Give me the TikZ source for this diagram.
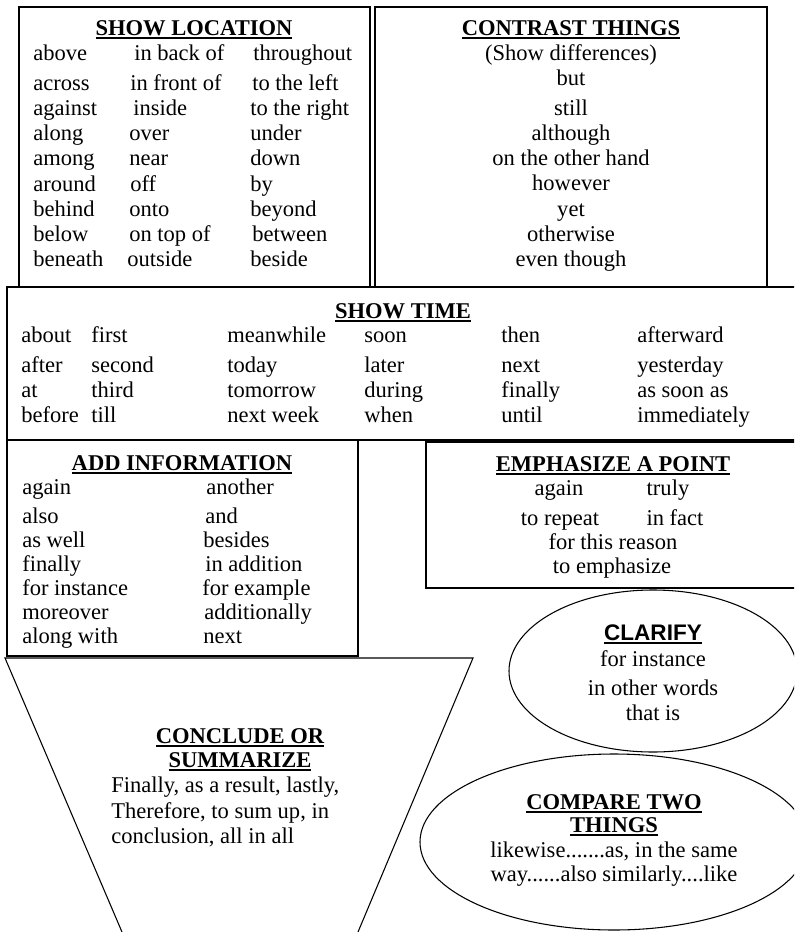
\documentclass[tikz,border=0pt]{standalone}
\usepackage{fontspec}
\setmainfont{Liberation Serif}
\newfontfamily\arialfont{Liberation Sans}
\newsavebox\hdbox
\newcommand\hdul[1]{\sbox\hdbox{#1}\leavevmode\rlap{\raisebox{-3pt}{\rule{\wd\hdbox}{1.4pt}}}\usebox\hdbox}
\newcommand\bodyfont{\fontsize{16.9pt}{19pt}\selectfont}
\newcommand\headfont{\fontsize{16.9pt}{19pt}\selectfont\bfseries}
\begin{document}
\begin{tikzpicture}[x=0.75pt,y=-0.75pt,
  txt/.style={inner sep=0pt, font=\bodyfont},
  lt/.style={txt, anchor=base west},
  ct/.style={txt, anchor=base},
  hd/.style={inner sep=0pt, anchor=base, font=\headfont},
  frame/.style={draw, line width=0.8pt}]
\useasboundingbox (0,0) rectangle (794,932);
\clip (0,0) rectangle (794,932);
% boxes
\draw[frame] (19,287) -- (19,7) -- (370,7) -- (370,287);
\draw[frame] (375,287) -- (375,7) -- (767,7) -- (767,287);
\draw[frame] (800,287) -- (7,287) -- (7,440) -- (800,440);
\draw[frame] (7,440) -- (7,656) -- (358,656) -- (358,440);
\draw[frame] (800,442) -- (426,442) -- (426,588) -- (800,588);
\draw[frame] (122,932) -- (5,658) -- (473,658) -- (358,932);
\draw[frame] (653,671) ellipse [x radius=144, y radius=81];
\draw[frame] (614,842) ellipse [x radius=194, y radius=88];
% SHOW LOCATION
\node[hd] (locH) at (194,35) {\hdul{SHOW LOCATION}};
\node[lt] (l11) at (33,60) {above};
\node[lt] (l12) at (134,60) {in back of};
\node[lt] (l13) at (253,60) {throughout};
\node[lt] (l21) at (33,90.5) {across};
\node[lt] (l22) at (130,90.5) {in front of};
\node[lt] (l23) at (252,90.5) {to the left};
\node[lt] (l31) at (33,115.5) {against};
\node[lt] (l32) at (133,115.5) {inside};
\node[lt] (l33) at (250,115.5) {to the right};
\node[lt] (l41) at (33,140.5) {along};
\node[lt] (l42) at (129,140.5) {over};
\node[lt] (l43) at (250,140.5) {under};
\node[lt] (l51) at (33,165.5) {among};
\node[lt] (l52) at (129,165.5) {near};
\node[lt] (l53) at (250,165.5) {down};
\node[lt] (l61) at (33,191) {around};
\node[lt] (l62) at (130,191) {off};
\node[lt] (l63) at (250,191) {by};
\node[lt] (l71) at (33,216) {behind};
\node[lt] (l72) at (129,216) {onto};
\node[lt] (l73) at (250,216) {beyond};
\node[lt] (l81) at (33,241) {below};
\node[lt] (l82) at (129,241) {on top of};
\node[lt] (l83) at (252,241) {between};
\node[lt] (l91) at (33,266) {beneath};
\node[lt] (l92) at (127,266) {outside};
\node[lt] (l93) at (250,266) {beside};
% CONTRAST THINGS
\node[hd] (conH) at (571,35) {\hdul{CONTRAST THINGS}};
\node[ct] (c1) at (571,60) {(Show differences)};
\node[ct] (c2) at (571,85) {but};
\node[ct] (c3) at (571,115) {still};
\node[ct] (c4) at (571,140) {although};
\node[ct] (c5) at (571,165.5) {on the other hand};
\node[ct] (c6) at (571,190.5) {however};
\node[ct] (c7) at (571,216) {yet};
\node[ct] (c8) at (571,241) {otherwise};
\node[ct] (c9) at (571,266) {even though};
% SHOW TIME
\node[hd] (timeH) at (403,318) {\hdul{SHOW TIME}};
\node[lt] (t11) at (21,342) {about};
\node[lt] (t12) at (91,342) {first};
\node[lt] (t13) at (227,342) {meanwhile};
\node[lt] (t14) at (364,342) {soon};
\node[lt] (t15) at (501,342) {then};
\node[lt] (t16) at (637,342) {afterward};
\node[lt] (t21) at (21,372) {after};
\node[lt] (t22) at (91,372) {second};
\node[lt] (t23) at (227,372) {today};
\node[lt] (t24) at (364,372) {later};
\node[lt] (t25) at (501,372) {next};
\node[lt] (t26) at (637,372) {yesterday};
\node[lt] (t31) at (21,397) {at};
\node[lt] (t32) at (91,397) {third};
\node[lt] (t33) at (227,397) {tomorrow};
\node[lt] (t34) at (364,397) {during};
\node[lt] (t35) at (501,397) {finally};
\node[lt] (t36) at (637,397) {as soon as};
\node[lt] (t41) at (21,422) {before};
\node[lt] (t42) at (91,422) {till};
\node[lt] (t43) at (227,422) {next week};
\node[lt] (t44) at (364,422) {when};
\node[lt] (t45) at (501,422) {until};
\node[lt] (t46) at (637,422) {immediately};
% ADD INFORMATION
\node[hd] (addH) at (182,470) {\hdul{ADD INFORMATION}};
\node[lt] (a11) at (22,494) {again};
\node[lt] (a12) at (206,494) {another};
\node[lt] (a21) at (22,523) {also};
\node[lt] (a22) at (205,523) {and};
\node[lt] (a31) at (22,547) {as well};
\node[lt] (a32) at (203,547) {besides};
\node[lt] (a41) at (22,571) {finally};
\node[lt] (a42) at (205,571) {in addition};
\node[lt] (a51) at (22,595) {for instance};
\node[lt] (a52) at (202,595) {for example};
\node[lt] (a61) at (22,619) {moreover};
\node[lt] (a62) at (204,619) {additionally};
\node[lt] (a71) at (22,643) {along with};
\node[lt] (a72) at (203,643) {next};
% EMPHASIZE A POINT
\node[hd] (empH) at (613,471) {\hdul{EMPHASIZE A POINT}};
\node[ct] (e11) at (559,495) {again};
\node[ct] (e12) at (668,495) {truly};
\node[ct] (e21) at (560,525) {to repeat};
\node[ct] (e22) at (675,525) {in fact};
\node[ct] (e3) at (613,549) {for this reason};
\node[ct] (e4) at (612,573) {to emphasize};
% CLARIFY
\node[hd, font=\fontsize{16.9pt}{19pt}\selectfont\arialfont\bfseries] (claH) at (653,640) {\hdul{CLARIFY}};
\node[ct] (cl1) at (653,666) {for instance};
\node[ct] (cl2) at (653,695) {in other words};
\node[ct] (cl3) at (653,720) {that is};
% CONCLUDE
\node[hd] (concH1) at (240,743) {\hdul{CONCLUDE OR}};
\node[hd] (concH2) at (240,767) {\hdul{SUMMARIZE}};
\node[lt] (co1) at (111,792) {Finally, as a result, lastly,};
\node[lt] (co2) at (111,818) {Therefore, to sum up, in};
\node[lt] (co3) at (111,843) {conclusion, all in all};
% COMPARE
\node[hd] (cmpH1) at (614,809) {\hdul{COMPARE TWO}};
\node[hd] (cmpH2) at (614,832) {\hdul{THINGS}};
\node[ct] (cm1) at (614,857) {likewise.......as, in the same};
\node[ct] (cm2) at (614,881) {way......also similarly....like};
\end{tikzpicture}
\end{document}
